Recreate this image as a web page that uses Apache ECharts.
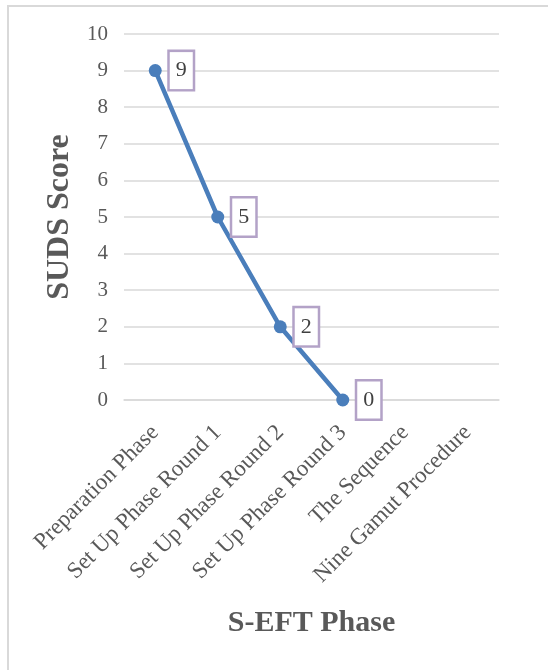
<!DOCTYPE html>
<html>
<head>
<meta charset="utf-8">
<script src="https://cdn.jsdelivr.net/npm/echarts@6/dist/echarts.min.js"></script>
<style>
  html, body { margin: 0; padding: 0; background: #fff; }
  #frame { position: absolute; left: 7px; top: 5px; width: 548px; height: 680px; border: 2px solid #d9d9d9; box-sizing: border-box; }
  #chart { position: absolute; left: 0; top: 0; width: 548px; height: 670px; }
</style>
</head>
<body>
<div id="frame"></div>
<div id="chart"></div>
<script>
const phases = ['Preparation Phase', 'Set Up Phase Round 1', 'Set Up Phase Round 2', 'Set Up Phase Round 3', 'The Sequence', 'Nine Gamut Procedure'];
const sudsScores = [9, 5, 2, 0, null, null];

const chart = echarts.init(document.getElementById('chart'));
const serif = 'Liberation Serif';

const option = {
    animation: false,
    grid: { left: 124, right: 49, top: 34, bottom: 270 },
    xAxis: {
        type: 'category',
        data: phases,
        boundaryGap: true,
        name: 'S-EFT Phase',
        nameLocation: 'middle',
        nameGap: 208,
        nameTextStyle: { fontFamily: serif, fontSize: 30, fontWeight: 'bold', color: '#595959' },
        axisLine: { show: true, lineStyle: { color: '#d9d9d9', width: 1.5 } },
        axisTick: { show: false },
        axisLabel: { rotate: 45, margin: 29, interval: 0, fontFamily: serif, fontSize: 23, color: '#595959' }
    },
    yAxis: {
        type: 'value',
        min: 0,
        max: 10,
        interval: 1,
        name: 'SUDS Score',
        nameLocation: 'middle',
        nameGap: 48,
        nameTextStyle: { fontFamily: serif, fontSize: 32, fontWeight: 'bold', color: '#595959' },
        axisLine: { show: false },
        axisTick: { show: false },
        axisLabel: { margin: 16, fontFamily: serif, fontSize: 21, color: '#595959' },
        splitLine: { lineStyle: { color: '#d9d9d9', width: 1.5 } }
    },
    series: [{
        type: 'line',
        data: sudsScores,
        symbol: 'circle',
        symbolSize: 13,
        lineStyle: { color: '#4a7ebb', width: 4.5 },
        itemStyle: { color: '#4a7ebb' },
        label: {
            show: true,
            position: 'right',
            distance: 8,
            fontFamily: serif,
            fontSize: 22,
            color: '#404040',
            backgroundColor: '#fff',
            borderColor: '#b3a2c7',
            borderWidth: 2.5,
            padding: [8, 6, 7, 6]
        }
    }]
};

chart.setOption(option);
</script>
</body>
</html>
